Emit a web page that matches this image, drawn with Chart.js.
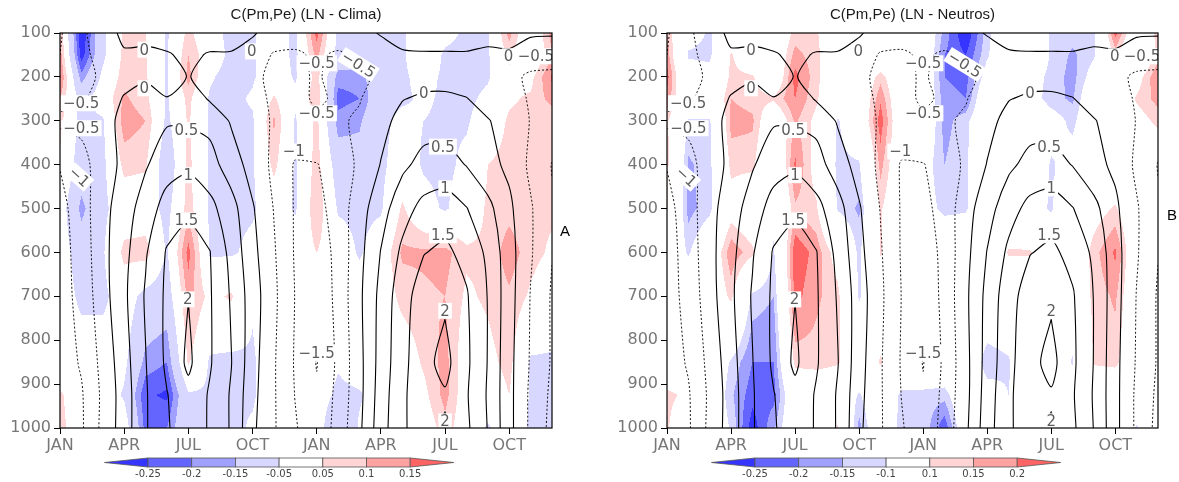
<!DOCTYPE html>
<html>
<head>
<meta charset="utf-8">
<script src="https://cdn.jsdelivr.net/npm/chart.js@4.4.1/dist/chart.umd.min.js"></script>
<style>
  html, body { margin: 0; padding: 0; background: #fff; }
  #wrap { position: relative; width: 1179px; height: 482px; overflow: hidden; }
  canvas { position: absolute; top: 0; }
</style>
</head>
<body>
<div id="wrap">
  <canvas id="panelA" width="590" height="482" style="left:0px;width:590px;height:482px"></canvas>
  <canvas id="panelB" width="589" height="482" style="left:590px;width:589px;height:482px"></canvas>
</div>
<script>
// ---- axes ----
const MONTH_NAMES = ['JAN', 'APR', 'JUL', 'OCT', 'JAN', 'APR', 'JUL', 'OCT'];
const MONTH_POS = [0, 3, 6, 9, 12, 15, 18, 21];          // month index of each tick (24 months, 0..23)
const PRESSURE_TICKS = [100, 200, 300, 400, 500, 600, 700, 800, 900, 1000];
const LEVELS = [100, 150, 200, 250, 300, 400, 500, 600, 700, 850, 925, 1000]; // hPa

// ---- shaded field, panel A (LN - Clima): one row per month, values at LEVELS ----
const shadeClima = [
  [0.10, 0.13, 0.16, 0.10, 0.07, 0.04, 0.00, 0.00, 0.00, 0.00, 0.06, 0.07],
  [-0.30, -0.28, -0.18, -0.08, -0.08, -0.10, -0.17, -0.10, -0.07, 0.00, 0.00, 0.00],
  [-0.07, -0.07, -0.03, 0.00, -0.06, -0.07, -0.07, -0.06, -0.07, 0.00, 0.00, 0.00],
  [0.06, 0.07, 0.08, 0.11, 0.13, 0.07, 0.00, 0.07, 0.00, -0.03, -0.06, 0.00],
  [0.05, 0.06, 0.06, 0.07, 0.10, 0.06, 0.00, 0.08, -0.08, -0.17, -0.24, -0.22],
  [-0.06, -0.06, -0.06, -0.06, -0.07, -0.12, -0.08, -0.06, -0.10, -0.20, -0.26, -0.20],
  [0.07, 0.10, 0.12, 0.07, 0.06, 0.07, 0.08, 0.17, 0.12, 0.06, -0.06, -0.06],
  [-0.02, 0.00, -0.04, -0.06, -0.06, -0.06, -0.06, -0.06, 0.03, -0.06, -0.06, -0.06],
  [-0.07, -0.07, -0.08, -0.07, -0.07, -0.12, -0.07, -0.06, 0.06, -0.07, -0.06, -0.07],
  [-0.06, -0.06, -0.06, -0.04, -0.06, -0.06, -0.06, -0.03, -0.04, -0.06, -0.06, -0.04],
  [0.00, 0.00, 0.00, 0.06, 0.11, 0.07, 0.00, 0.00, 0.00, 0.00, 0.00, 0.00],
  [-0.07, -0.07, -0.06, -0.03, -0.06, -0.06, -0.06, 0.00, 0.00, 0.00, 0.00, 0.00],
  [0.17, 0.12, 0.08, 0.10, 0.07, 0.08, 0.10, 0.05, 0.00, 0.00, 0.00, 0.00],
  [-0.07, -0.08, -0.18, -0.22, -0.18, -0.10, -0.06, 0.00, 0.00, -0.04, -0.07, -0.15],
  [-0.07, -0.10, -0.18, -0.20, -0.16, -0.12, -0.07, -0.06, 0.00, 0.00, -0.06, -0.04],
  [-0.06, -0.07, -0.08, -0.08, -0.07, -0.07, -0.06, 0.00, 0.00, 0.00, 0.00, 0.00],
  [-0.06, -0.06, -0.06, -0.06, -0.03, 0.00, 0.06, 0.11, 0.07, 0.00, 0.00, 0.00],
  [0.00, 0.00, -0.03, -0.04, -0.05, -0.06, -0.02, 0.11, 0.09, 0.06, 0.03, 0.00],
  [-0.03, -0.06, -0.06, -0.06, -0.06, -0.07, -0.06, 0.12, 0.10, 0.12, 0.12, 0.08],
  [-0.06, -0.07, -0.08, -0.07, -0.06, -0.03, 0.00, 0.06, 0.04, 0.00, 0.00, 0.00],
  [-0.06, -0.06, -0.06, -0.03, 0.00, 0.05, 0.06, 0.06, 0.06, 0.03, 0.00, -0.06],
  [0.12, 0.07, 0.03, 0.04, 0.06, 0.07, 0.08, 0.13, 0.09, 0.07, 0.05, 0.00],
  [-0.04, -0.05, 0.03, 0.06, 0.07, 0.06, 0.06, 0.07, 0.04, -0.06, -0.06, -0.06],
  [0.12, 0.10, 0.16, 0.12, 0.06, 0.06, 0.06, 0.04, 0.00, -0.06, -0.06, -0.06]
];

// ---- shaded field, panel B (LN - Neutros): one row per month, values at LEVELS ----
const shadeNeutros = [
  [0.15, 0.18, 0.22, 0.18, 0.12, 0.12, 0.11, 0.00, 0.00, 0.00, 0.12, 0.11],
  [-0.06, -0.11, -0.05, 0.00, -0.11, -0.16, -0.17, -0.11, 0.00, 0.00, 0.08, 0.00],
  [-0.11, -0.12, -0.06, 0.00, -0.11, -0.12, -0.12, 0.00, 0.00, 0.00, 0.00, 0.00],
  [0.00, 0.11, 0.12, 0.15, 0.17, 0.12, 0.06, 0.19, 0.12, -0.11, -0.14, -0.11],
  [0.00, 0.00, 0.11, 0.13, 0.16, 0.12, 0.00, 0.12, -0.12, -0.20, -0.23, -0.28],
  [0.00, 0.00, 0.00, 0.11, 0.00, -0.05, -0.08, -0.11, -0.15, -0.20, -0.22, -0.16],
  [0.12, 0.17, 0.22, 0.20, 0.16, 0.21, 0.14, 0.24, 0.22, 0.12, 0.00, 0.00],
  [0.11, 0.12, 0.12, 0.11, 0.08, 0.06, 0.11, 0.18, 0.16, 0.13, 0.00, 0.00],
  [0.00, 0.00, 0.00, 0.00, -0.11, -0.12, -0.11, 0.06, 0.12, 0.11, 0.00, 0.11],
  [0.00, 0.00, 0.00, 0.00, 0.00, -0.11, -0.16, -0.12, -0.11, 0.00, -0.11, -0.17],
  [0.00, 0.00, 0.13, 0.19, 0.23, 0.17, 0.11, 0.11, 0.00, 0.11, 0.00, 0.00],
  [0.00, 0.00, 0.00, 0.00, 0.00, 0.00, 0.00, 0.00, 0.00, 0.00, -0.12, -0.13],
  [0.00, 0.00, 0.00, 0.00, 0.00, -0.06, -0.06, 0.00, 0.00, 0.00, -0.12, -0.11],
  [-0.17, -0.20, -0.20, -0.18, -0.17, -0.15, -0.12, 0.00, 0.00, 0.00, -0.13, -0.24],
  [-0.30, -0.25, -0.22, -0.20, -0.12, -0.11, -0.11, 0.00, 0.00, 0.00, 0.00, 0.00],
  [-0.12, -0.11, -0.06, 0.00, 0.00, 0.00, 0.00, 0.00, 0.00, -0.14, -0.06, 0.00],
  [0.00, 0.00, 0.00, 0.00, 0.00, 0.00, 0.00, 0.11, 0.00, -0.11, -0.10, 0.00],
  [0.00, 0.00, -0.06, -0.06, 0.00, 0.00, -0.06, 0.11, 0.00, 0.00, 0.00, 0.00],
  [-0.11, -0.11, -0.12, -0.13, -0.06, -0.11, -0.11, 0.00, 0.00, 0.00, 0.00, 0.00],
  [-0.13, -0.16, -0.17, -0.16, -0.12, -0.06, 0.00, 0.00, 0.00, -0.11, 0.00, 0.00],
  [-0.11, -0.11, -0.06, 0.00, 0.00, 0.00, 0.06, 0.13, 0.12, 0.11, 0.00, 0.00],
  [0.22, 0.12, 0.00, 0.00, 0.00, 0.00, 0.11, 0.21, 0.16, 0.12, 0.00, 0.00],
  [0.00, -0.06, 0.06, 0.11, 0.06, 0.00, 0.00, 0.00, 0.00, 0.00, 0.00, -0.11],
  [0.12, 0.13, 0.20, 0.17, 0.12, 0.00, 0.00, 0.00, 0.00, 0.00, 0.00, 0.00]
];

// ---- contoured field (same in both panels): one row per level, 24 months ----
const climField = [
  /* 100 */ [-1.05, -0.60, -0.20, 0.10, 0.15, 0.25, 0.30, 0.30, 0.25, 0.05, -0.20, -0.35, -0.35, -0.30, -0.20, 0.05, 0.15, 0.15, 0.15, 0.10, 0.05, 0.05, 0.05, 0.05],
  /* 150 */ [-1.00, -0.65, -0.30, -0.05, -0.10, -0.05, 0.12, -0.05, -0.05, -0.20, -0.55, -0.55, -0.45, -0.55, -0.45, -0.30, -0.05, -0.03, -0.03, -0.02, -0.03, -0.02, -0.20, -0.30],
  /* 200 */ [-0.80, -0.60, -0.45, -0.20, -0.05, -0.20, 0.02, -0.15, -0.30, -0.45, -0.55, -0.60, -0.45, -0.65, -0.60, -0.40, -0.20, -0.20, -0.20, -0.25, -0.30, -0.35, -0.60, -0.60],
  /* 250 */ [-0.65, -0.55, -0.35, 0.05, 0.15, 0.02, 0.30, -0.05, -0.25, -0.40, -0.55, -0.60, -0.45, -0.55, -0.52, -0.30, -0.02, 0.08, 0.10, 0.02, -0.20, -0.30, -0.55, -0.65],
  /* 300 */ [-0.40, -0.35, -0.20, 0.15, 0.30, 0.45, 0.42, 0.35, -0.05, -0.30, -0.55, -0.60, -0.56, -0.55, -0.45, -0.15, 0.15, 0.30, 0.30, 0.15, 0.03, -0.20, -0.52, -0.70],
  /* 400 */ [-0.98, -0.70, -0.20, 0.10, 0.45, 0.80, 0.90, 0.70, 0.25, -0.20, -0.60, -1.05, -1.02, -0.80, -0.40, 0.02, 0.40, 0.65, 0.70, 0.48, 0.15, -0.10, -0.60, -1.02],
  /* 500 */ [-1.15, -0.75, -0.15, 0.25, 0.75, 1.20, 1.40, 1.15, 0.70, 0.05, -0.52, -1.05, -1.15, -0.80, -0.20, 0.30, 0.80, 1.15, 1.25, 1.02, 0.65, 0.10, -0.45, -0.95],
  /* 600 */ [-1.20, -0.80, -0.15, 0.35, 0.95, 1.55, 1.72, 1.52, 0.85, 0.15, -0.45, -1.05, -1.30, -0.85, -0.15, 0.52, 1.10, 1.48, 1.60, 1.35, 0.90, 0.20, -0.45, -0.98],
  /* 700 */ [-1.20, -0.85, -0.20, 0.40, 1.05, 1.60, 1.99, 1.55, 0.95, 0.25, -0.40, -1.02, -1.40, -0.85, -0.10, 0.65, 1.30, 1.75, 1.92, 1.55, 0.98, 0.20, -0.52, -1.05],
  /* 850 */ [-1.25, -0.95, -0.35, 0.30, 0.98, 1.60, 2.10, 1.55, 1.02, 0.20, -0.45, -1.05, -1.52, -0.90, -0.15, 0.70, 1.35, 1.85, 2.15, 1.60, 0.98, 0.15, -0.55, -1.05],
  /* 925 */ [-1.30, -1.05, -0.40, 0.25, 0.95, 1.48, 1.85, 1.45, 0.95, 0.15, -0.45, -1.02, -1.45, -0.85, -0.15, 0.75, 1.40, 1.85, 1.95, 1.55, 0.95, 0.15, -0.60, -1.10],
  /* 1000 */ [-1.30, -1.07, -0.37, 0.25, 0.95, 1.45, 1.80, 1.45, 0.95, 0.10, -0.45, -0.95, -1.40, -0.80, -0.10, 0.80, 1.40, 1.85, 2.05, 1.60, 0.98, 0.15, -0.60, -1.15]
];
const CONTOUR_LEVELS = [-1.5, -1, -0.5, 0, 0.5, 1, 1.5, 2];

// contour labels: text, month, level (hPa), rotation (deg)
const LINE_LABELS = [
  ['0', 3.94, 138, 0], ['0', 8.96, 142, 0], ['0', 3.94, 226, 0],
  ['\u22120.5', 0.99, 260, 0], ['\u22120.5', 1.0, 317, 0], ['\u22121', 0.9, 428, 42],
  ['0.5', 5.91, 321, 0], ['1', 6.0, 424, 0], ['1.5', 5.91, 527, 0], ['2', 5.97, 707, 0],
  ['\u22120.5', 12.0, 169, 0], ['\u22120.5', 13.95, 172, 32], ['\u22120.5', 12.0, 283, 0],
  ['\u22121', 10.93, 370, 0], ['\u22121.5', 12.0, 829, 0],
  ['0', 17.0, 237, 0], ['0.5', 17.9, 359, 0], ['1', 18.0, 454, 0], ['1.5', 17.9, 561, 0],
  ['2', 18.0, 733, 0], ['2', 18.0, 985, 0],
  ['0', 20.97, 153, 0], ['\u22120.5', 22.25, 153, 0]
];

// colour classes
const BOUNDS_CLIMA = [-0.25, -0.2, -0.15, -0.05, 0.05, 0.1, 0.15];
const BOUNDS_NEUTROS = [-0.25, -0.2, -0.15, -0.1, 0.1, 0.15, 0.2];
const CLASS_COLORS = ['#3535ff', '#6464ff', '#a0a0ff', '#d7d7ff', '#ffffff', '#ffd5d5', '#ffa2a2', '#ff6464'];

const FONT = "'DejaVu Sans', sans-serif";
const GRAY = '#777777';

function hexRgb(h) {
  return [parseInt(h.slice(1, 3), 16), parseInt(h.slice(3, 5), 16), parseInt(h.slice(5, 7), 16)];
}
const CLASS_RGB = CLASS_COLORS.map(hexRgb);

function levelIndex(p) {
  let k = 0;
  while (k < LEVELS.length - 2 && p > LEVELS[k + 1]) k++;
  const t = (p - LEVELS[k]) / (LEVELS[k + 1] - LEVELS[k]);
  return [k, Math.max(0, Math.min(1, t))];
}

// shaded field, interpolated between grid points and drawn through the chart scales
function shadePlugin(grid, bounds) {
  return {
    id: 'shadeField',
    beforeDatasetsDraw(chart) {
      const { ctx, chartArea: a, scales: { x, y } } = chart;
      const w = Math.round(a.right - a.left), h = Math.round(a.bottom - a.top);
      const off = document.createElement('canvas');
      off.width = w; off.height = h;
      const octx = off.getContext('2d');
      const img = octx.createImageData(w, h);
      const cols = [], rows = [];
      for (let px = 0; px < w; px++) {
        const m = x.getValueForPixel(a.left + px + 0.5);
        let i = Math.max(0, Math.min(grid.length - 2, Math.floor(m)));
        cols.push([i, Math.max(0, Math.min(1, m - i))]);
      }
      for (let py = 0; py < h; py++) rows.push(levelIndex(y.getValueForPixel(a.top + py + 0.5)));
      let o = 0;
      for (let py = 0; py < h; py++) {
        const [k, t] = rows[py];
        for (let px = 0; px < w; px++) {
          const [i, s] = cols[px];
          const v = (1 - t) * ((1 - s) * grid[i][k] + s * grid[i + 1][k]) +
                    t * ((1 - s) * grid[i][k + 1] + s * grid[i + 1][k + 1]);
          let c = 0;
          while (c < bounds.length && v >= bounds[c]) c++;
          const rgb = CLASS_RGB[c];
          img.data[o] = rgb[0]; img.data[o + 1] = rgb[1]; img.data[o + 2] = rgb[2]; img.data[o + 3] = 255;
          o += 4;
        }
      }
      octx.putImageData(img, 0, 0);
      ctx.drawImage(off, a.left, a.top);
    }
  };
}

// marching squares on the contoured field -> polylines in (month, hPa)
function contourLines(field, level) {
  const nL = LEVELS.length, nM = field[0].length;
  const segs = [];
  const pt = (k, i, k2, i2) => {
    const va = field[k][i], vb = field[k2][i2];
    const t = (level - va) / (vb - va);
    return { x: i + t * (i2 - i), y: LEVELS[k] + t * (LEVELS[k2] - LEVELS[k]) };
  };
  for (let k = 0; k < nL - 1; k++) {
    for (let i = 0; i < nM - 1; i++) {
      const a = field[k][i], b = field[k][i + 1], c = field[k + 1][i + 1], d = field[k + 1][i];
      const A = a >= level, B = b >= level, C = c >= level, D = d >= level;
      const e = [];
      if (A !== B) e[0] = { key: 'h' + k + ',' + i, p: pt(k, i, k, i + 1) };
      if (B !== C) e[1] = { key: 'v' + k + ',' + (i + 1), p: pt(k, i + 1, k + 1, i + 1) };
      if (D !== C) e[2] = { key: 'h' + (k + 1) + ',' + i, p: pt(k + 1, i, k + 1, i + 1) };
      if (A !== D) e[3] = { key: 'v' + k + ',' + i, p: pt(k, i, k + 1, i) };
      const present = [0, 1, 2, 3].filter(j => e[j]);
      const add = (j1, j2) => segs.push({ ka: e[j1].key, pa: e[j1].p, kb: e[j2].key, pb: e[j2].p });
      if (present.length === 2) add(present[0], present[1]);
      else if (present.length === 4) {
        const center = (a + b + c + d) / 4 >= level;
        if (center === A) { add(0, 1); add(2, 3); } else { add(3, 0); add(1, 2); }
      }
    }
  }
  const byKey = new Map();
  segs.forEach((s, idx) => {
    [s.ka, s.kb].forEach(kk => { if (!byKey.has(kk)) byKey.set(kk, []); byKey.get(kk).push(idx); });
  });
  const used = segs.map(() => false);
  const extend = (key, pts, front) => {
    let cur = key;
    for (;;) {
      const cand = (byKey.get(cur) || []).find(j => !used[j]);
      if (cand === undefined) break;
      used[cand] = true;
      const s = segs[cand];
      const nk = s.ka === cur ? s.kb : s.ka;
      const np = s.ka === cur ? s.pb : s.pa;
      if (front) pts.unshift(np); else pts.push(np);
      cur = nk;
    }
  };
  const lines = [];
  segs.forEach((s, idx) => {
    if (used[idx]) return;
    used[idx] = true;
    const pts = [s.pa, s.pb];
    extend(s.kb, pts, false);
    extend(s.ka, pts, true);
    lines.push(pts);
  });
  return lines;
}

function contourDatasets(field) {
  return CONTOUR_LEVELS.map(lev => {
    const data = [];
    contourLines(field, lev).forEach(line => {
      line.forEach(p => data.push(p));
      data.push({ x: line[line.length - 1].x, y: null });
    });
    return {
      label: String(lev),
      data,
      showLine: true,
      spanGaps: false,
      borderColor: '#000000',
      borderWidth: lev < 0 ? 0.9 : 1.1,
      borderDash: lev < 0 ? [2, 2] : [],
      pointRadius: 0,
      tension: 0.25,
      fill: false
    };
  });
}

// contour labels, frame, title, side letter and colour bar
function decorPlugin(title, letter, bounds, boundLabels) {
  return {
    id: 'decor',
    afterDatasetsDraw(chart) {
      const { ctx, chartArea: a, scales: { x, y } } = chart;
      ctx.save();
      ctx.beginPath();
      ctx.rect(a.left, a.top, a.right - a.left, a.bottom - a.top);
      ctx.clip();
      ctx.font = '15px ' + FONT;
      ctx.textAlign = 'center';
      ctx.textBaseline = 'middle';
      LINE_LABELS.forEach(([txt, m, p, rot]) => {
        const px = x.getPixelForValue(m), py = y.getPixelForValue(p);
        const tw = ctx.measureText(txt).width;
        ctx.save();
        ctx.translate(px, py);
        ctx.rotate(rot * Math.PI / 180);
        ctx.fillStyle = '#ffffff';
        ctx.fillRect(-tw / 2 - 2, -8, tw + 4, 16);
        ctx.fillStyle = '#5c5c5c';
        ctx.fillText(txt, 0, 1);
        ctx.restore();
      });
      ctx.restore();
      // frame
      ctx.save();
      ctx.strokeStyle = '#000';
      ctx.lineWidth = 1.2;
      ctx.strokeRect(a.left, a.top, a.right - a.left, a.bottom - a.top);
      ctx.restore();
    },
    afterDraw(chart) {
      const { ctx, chartArea: a } = chart;
      ctx.save();
      ctx.fillStyle = '#1a1a1a';
      ctx.font = "15px 'Liberation Sans', Arial, sans-serif";
      ctx.textAlign = 'center';
      ctx.textBaseline = 'middle';
      ctx.fillText(title, (a.left + a.right) / 2, 15);
      ctx.fillStyle = '#000';
      ctx.fillText(letter.text, letter.x, letter.y);
      // colour bar
      const x0 = a.left + 88, seg = 43.7, tip = 43.5, y0 = 458, y1 = 467, ym = 462.5;
      ctx.strokeStyle = '#555';
      ctx.lineWidth = 0.8;
      ctx.beginPath();
      ctx.moveTo(x0 - tip, ym); ctx.lineTo(x0, y0); ctx.lineTo(x0, y1); ctx.closePath();
      ctx.fillStyle = CLASS_COLORS[0]; ctx.fill(); ctx.stroke();
      for (let j = 0; j < 6; j++) {
        ctx.fillStyle = CLASS_COLORS[j + 1];
        ctx.fillRect(x0 + j * seg, y0, seg, y1 - y0);
        ctx.strokeRect(x0 + j * seg, y0, seg, y1 - y0);
      }
      const xe = x0 + 6 * seg;
      ctx.beginPath();
      ctx.moveTo(xe, y0); ctx.lineTo(xe + tip, ym); ctx.lineTo(xe, y1); ctx.closePath();
      ctx.fillStyle = CLASS_COLORS[7]; ctx.fill(); ctx.stroke();
      ctx.fillStyle = '#444';
      ctx.font = '10px ' + FONT;
      bounds.forEach((b, j) => ctx.fillText(boundLabels[j], x0 + j * seg, 474));
      ctx.restore();
    }
  };
}

function makeChart(id, grid, bounds, boundLabels, title, letter, yWidth, padRight) {
  return new Chart(document.getElementById(id), {
    type: 'scatter',
    data: { datasets: contourDatasets(climField) },
    options: {
      responsive: false,
      animation: false,
      devicePixelRatio: 1,
      events: [],
      layout: { padding: { top: 33, right: padRight, bottom: 0, left: 0 } },
      plugins: { legend: { display: false }, tooltip: { enabled: false }, title: { display: false } },
      scales: {
        x: {
          type: 'linear', min: 0, max: 23,
          afterBuildTicks: s => { s.ticks = MONTH_POS.map(v => ({ value: v })); },
          afterFit: s => { s.height = 54; },
          ticks: {
            autoSkip: false, maxRotation: 0, padding: 2,
            color: GRAY, font: { family: FONT, size: 16 },
            callback: v => MONTH_NAMES[MONTH_POS.indexOf(v)]
          },
          grid: { drawOnChartArea: false, drawTicks: true, tickLength: 6, color: '#000' },
          border: { display: false }
        },
        y: {
          type: 'linear', min: 100, max: 1000, reverse: true,
          afterBuildTicks: s => { s.ticks = PRESSURE_TICKS.map(v => ({ value: v })); },
          afterFit: s => { s.width = yWidth; },
          ticks: { padding: 3, color: GRAY, font: { family: FONT, size: 16 }, callback: v => String(v) },
          grid: { drawOnChartArea: false, drawTicks: true, tickLength: 6, color: '#000' },
          border: { display: false }
        }
      }
    },
    plugins: [shadePlugin(grid, bounds), decorPlugin(title, letter, bounds, boundLabels)]
  });
}

const LABELS_CLIMA = ['-0.25', '-0.2', '-0.15', '-0.05', '0.05', '0.1', '0.15'];
const LABELS_NEUTROS = ['-0.25', '-0.2', '-0.15', '-0.1', '0.1', '0.15', '0.2'];

makeChart('panelA', shadeClima, BOUNDS_CLIMA, LABELS_CLIMA, 'C(Pm,Pe) (LN - Clima)', { text: 'A', x: 565, y: 232 }, 60, 38);
makeChart('panelB', shadeNeutros, BOUNDS_NEUTROS, LABELS_NEUTROS, 'C(Pm,Pe) (LN - Neutros)', { text: 'B', x: 582, y: 216 }, 77, 21);
</script>
</body>
</html>
